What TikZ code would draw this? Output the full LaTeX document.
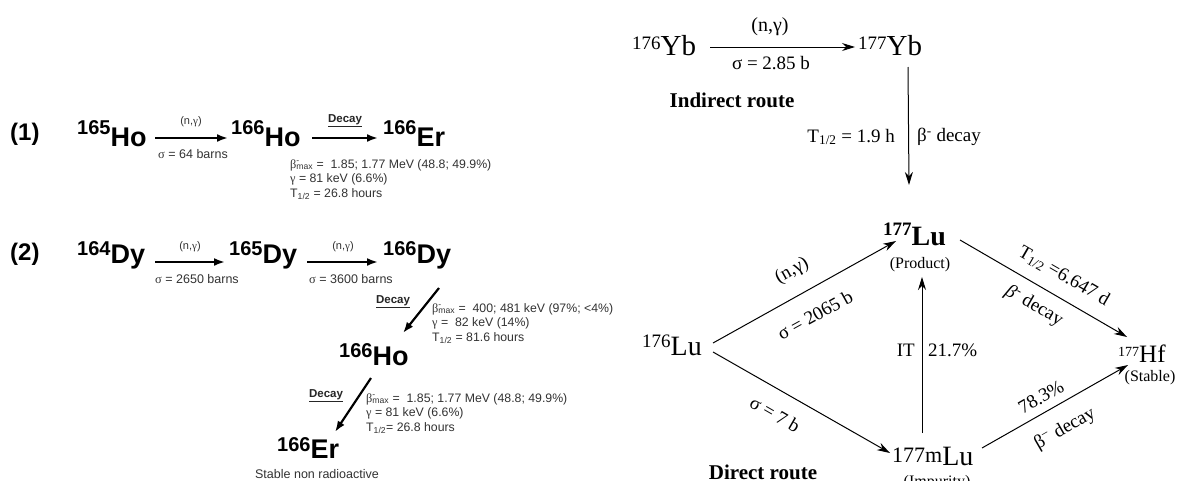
\documentclass[tikz,border=0pt]{standalone}
\usepackage{fontspec}
\setmainfont{Liberation Serif}
\newfontfamily\arialf{Liberation Sans}
\usetikzlibrary{arrows.meta}
\newcommand{\FS}[1]{\fontsize{#1}{#1}\selectfont}
\newcommand{\isoL}[3]{{\FS{20}\raisebox{#3}{#1}}#2}
\newcommand{\isoRm}[4]{{\FS{#4}\raisebox{#3}{#1}}#2}
\newcommand{\bmax}{{\rmfamily β}\rlap{\textsuperscript{-}}\textsubscript{max}}
\newcommand{\gr}[1]{{\rmfamily #1}}
\begin{document}
\begin{tikzpicture}[x=1pt,y=-1pt,
  bigL/.style={anchor=base west, inner sep=0pt, font=\arialf\bfseries\FS{27}},
  numL/.style={anchor=base west, inner sep=0pt, font=\arialf\bfseries\FS{24}},
  nlab/.style={inner sep=0pt, font=\arialf\FS{11}, text=black!80},
  slab/.style={inner sep=0pt, font=\arialf\FS{12.5}, text=black!80},
  dec/.style={inner sep=0pt, font=\arialf\bfseries\FS{11.5}, text=black!85},
  info/.style={anchor=north west, inner sep=0pt, align=left, font=\arialf\fontsize{12.3}{14.5}\selectfont, text=black!80},
  arrL/.style={line width=2.2pt, -{Latex[length=11pt,width=8pt]}},
  isoR/.style={anchor=base west, inner sep=0pt, font=\FS{29}},
  lblR/.style={inner sep=0pt, font=\FS{19}},
  subR/.style={inner sep=0pt, font=\FS{16}},
  route/.style={inner sep=0pt, font=\bfseries\FS{21}},
  arrR/.style={line width=1pt, -{Stealth[length=13pt,width=8pt]}}]
\useasboundingbox (0,0) rectangle (1180,480);
\fill[white] (0,0) rectangle (1180,480);

% ---------- left panel (1)
\node[numL] (one) at (10,140) {(1)};
\node[bigL] (hoA) at (77,146) {\isoL{165}{Ho}{12pt}};
\node[bigL] (hoB) at (231,146) {\isoL{166}{Ho}{12pt}};
\node[bigL] (erA) at (383,146) {\isoL{166}{Er}{12pt}};
\draw[arrL] ([shift={(78,-8)}]hoA.base west) -- ([shift={(-3,-8)}]hoB.base west);
\draw[arrL] ([shift={(81,-8)}]hoB.base west) -- ([shift={(-5,-8)}]erA.base west);
\node[nlab] (ng1) at (191,122) {(n,\gr{γ})};
\node[slab] (s1) at (193,154) {\gr{σ} = 64 barns};
\node[dec] (d1) at (345,121) {\underline{Decay}};
\node[info] (i1) at (290,159) {\bmax{} = \ 1.85; 1.77 MeV (48.8; 49.9\%)\\ \gr{γ} = 81 keV (6.6\%)\\ T\textsubscript{1/2} = 26.8 hours};

% ---------- left panel (2)
\node[numL] (two) at (10,260) {(2)};
\node[bigL] (dyA) at (77,263) {\isoL{164}{Dy}{8pt}};
\node[bigL] (dyB) at (229,263) {\isoL{165}{Dy}{8pt}};
\node[bigL] (dyC) at (383,263) {\isoL{166}{Dy}{8pt}};
\draw[arrL] ([shift={(78,-1)}]dyA.base west) -- ([shift={(-4,-1)}]dyB.base west);
\draw[arrL] ([shift={(78,-1)}]dyB.base west) -- ([shift={(-5,-1)}]dyC.base west);
\node[nlab] (ng2) at (190,247) {(n,\gr{γ})};
\node[slab] (s2) at (197,279) {\gr{σ} = 2650 barns};
\node[nlab] (ng3) at (343,247) {(n,\gr{γ})};
\node[slab] (s3) at (351,279) {\gr{σ} = 3600 barns};
\node[bigL] (hoC) at (339,365) {\isoL{166}{Ho}{8pt}};
\node[bigL] (erB) at (277,458) {\isoL{166}{Er}{7pt}};
\draw[arrL] ([shift={(56,25)}]dyC.base west) -- ([shift={(64,-32)}]hoC.base west);
\draw[arrL] ([shift={(32,13)}]hoC.base west) -- ([shift={(58,-26)}]erB.base west);
\node[dec] (d2) at (393,302) {\underline{Decay}};
\node[dec] (d3) at (326,396) {\underline{Decay}};
\begin{scope}
\clip (0,0) rectangle (612,480);
\node[info] (i2) at (432,303) {\bmax{} = \ 400; 481 keV (97\%; <4\%)\\ \gr{γ} = \ 82 keV (14\%)\\ T\textsubscript{1/2} = 81.6 hours};
\end{scope}
\node[info] (i3) at (366,393) {\bmax{} = \ 1.85; 1.77 MeV (48.8; 49.9\%)\\ \gr{γ} = 81 keV (6.6\%)\\ T\textsubscript{1/2}= 26.8 hours};
\node[slab] (stab) at (317,474) {Stable non radioactive};

% ---------- right panel
\node[isoR] (yb6) at (632,55) {\isoRm{176}{Yb}{6pt}{19}};
\node[isoR] (yb7) at (858,55) {\isoRm{177}{Yb}{6pt}{19}};
\draw[arrR] ([shift={(78,-8)}]yb6.base west) -- ([shift={(-3,-8)}]yb7.base west);
\node[lblR, font=\FS{20}] (ngR) at (770,27) {(n,γ)};
\node[lblR] (sR) at (771,63) {σ = 2.85 b};
\node[route] (ind) at (732,100) {Indirect route};

\node[isoR, font=\bfseries\FS{28}] (lu7) at (883,245) {\isoRm{177}{Lu}{10pt}{19}};
\node[subR] (prod) at (920,265) {(Product)};
\draw[arrR] ([shift={(50,12)}]yb7.base west) -- ([shift={(26,-60)}]lu7.base west);
\node[lblR, anchor=east] (thalf) at (895,137) {T\textsubscript{1/2} = 1.9 h};
\node[lblR, anchor=west] (bdec) at (917,137) {β\textsuperscript{-} decay};

\node[isoR, font=\FS{28}] (lu6) at (642,355) {\isoRm{176}{Lu}{8pt}{19}};
\node[isoR, font=\FS{28}] (lu7m) at (892,465) {\isoRm{177m}{Lu}{3pt}{22}};
\node[subR] (imp) at (937,483) {(Impurity)};
\node[isoR, font=\FS{25}] (hf) at (1118,362) {\isoRm{177}{Hf}{6pt}{14}};
\node[subR] (stable) at (1150,378) {(Stable)};

\draw[arrR] ([shift={(71,-12)}]lu6.base west) -- ([shift={(13,-4)}]lu7.base west);
\draw[arrR] ([shift={(71,-3)}]lu6.base west) -- ([shift={(-2,-12)}]lu7m.base west);
\draw[arrR] ([shift={(30,-32)}]lu7m.base west) -- ([shift={(39,32)}]lu7.base west);
\draw[arrR] ([shift={(77,-5)}]lu7.base west) -- ([shift={(9,-25)}]hf.base west);
\draw[arrR] ([shift={(90,-17)}]lu7m.base west) -- ([shift={(10,3)}]hf.base west);

\node[lblR, rotate=29] (ngD) at (792,271) {(n,γ)};
\node[lblR, rotate=29] (sD) at (815,315) {σ = 2065 b};
\node[lblR, rotate=-30] (s7) at (775,414) {σ = 7 b};
\node[route] (dir) at (763,472) {Direct route};
\node[lblR, anchor=east] (it) at (915,350) {IT};
\node[lblR, anchor=west] (pct) at (928,350) {21.7\%};
\node[lblR, rotate=-30] (thd) at (1064,276) {T\textsubscript{1/2} =6.647 d};
\node[lblR, rotate=-30] (bd1) at (1034,306) {\textit{β}\textsuperscript{-} decay};
\node[lblR, rotate=30] (p78) at (1041,397) {78.3\%};
\node[lblR, rotate=30] (bd2) at (1065,429) {β\textsuperscript{−} decay};
\end{tikzpicture}
\end{document}
